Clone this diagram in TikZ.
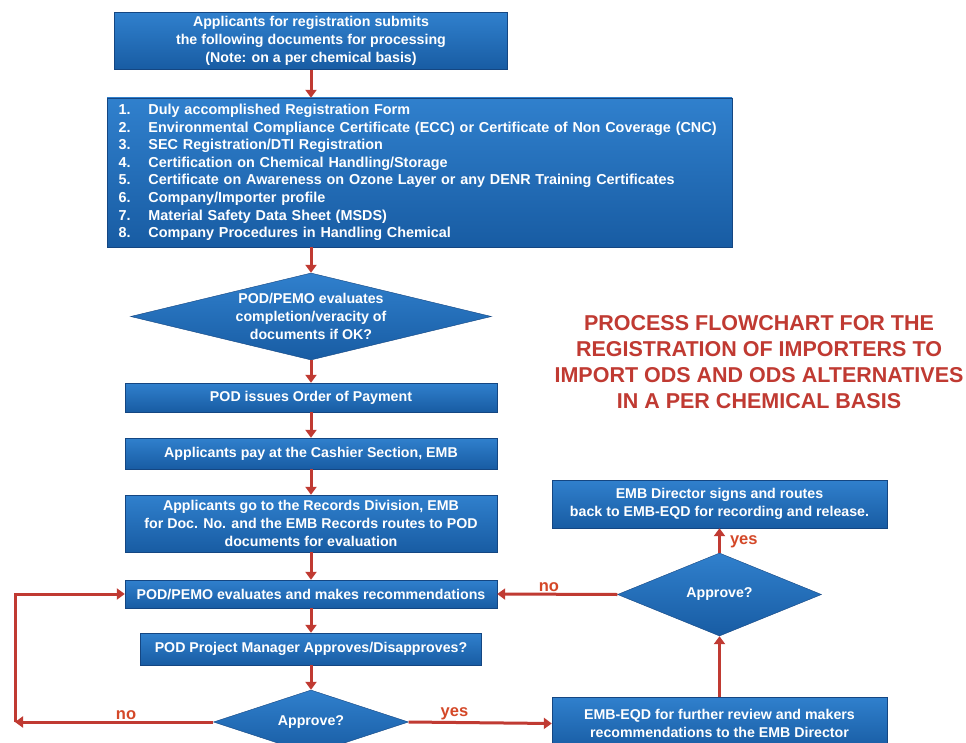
\documentclass[tikz,border=0pt]{standalone}
\usepackage{fontspec}
\setmainfont{Liberation Sans}
\usepackage{tikz}
\usetikzlibrary{shapes.geometric,arrows.meta}
\definecolor{azulclaro}{RGB}{48,128,205}
\definecolor{azuloscuro}{RGB}{24,92,163}
\definecolor{azulborde}{RGB}{20,70,130}
\definecolor{rojo}{RGB}{192,58,50}
\definecolor{naranja}{RGB}{212,72,40}
\tikzstyle{caja} = [rectangle, top color=azulclaro, bottom color=azuloscuro, draw=azulborde, thin, text=white, font=\fontsize{14.2}{18}\selectfont\bfseries, align=center, inner sep=0pt, minimum width=372pt]
\tikzstyle{decision} = [diamond, top color=azulclaro, bottom color=azuloscuro, draw=azulborde, thin, text=white, font=\fontsize{14.2}{18}\selectfont\bfseries, align=center, inner sep=0pt]
\tikzstyle{flecha} = [draw=rojo, line width=3pt, -{Triangle[width=11pt,length=8pt]}]
\tikzstyle{etiqueta} = [text=naranja, font=\fontsize{16.5}{18}\selectfont\bfseries, inner sep=1pt]
\tikzstyle{titulo} = [text=rojo, font=\fontsize{21.5}{26}\selectfont\bfseries, align=center]

\begin{document}
\begin{tikzpicture}[x=1pt,y=-1pt]
		\useasboundingbox[fill=white] (0,0) rectangle (966,743);
		% columna principal
		\node[caja, minimum width=393pt, minimum height=57pt](inicio) at (311,41){Applicants for registration submits\\the following documents for processing\\(Note: on a per chemical basis)};
		\node[caja, minimum width=625pt, minimum height=149pt, text width=602pt, align=left, inner xsep=11.5pt, font=\fontsize{14.4}{17.6}\selectfont\bfseries](requisitos) at (419.5,172.5){%
			\makebox[30pt][l]{1.}Duly accomplished Registration Form\\
			\makebox[30pt][l]{2.}Environmental Compliance Certificate (ECC) or Certificate of Non Coverage (CNC)\\
			\makebox[30pt][l]{3.}SEC Registration/DTI Registration\\
			\makebox[30pt][l]{4.}Certification on Chemical Handling/Storage\\
			\makebox[30pt][l]{5.}Certificate on Awareness on Ozone Layer or any DENR Training Certificates\\
			\makebox[30pt][l]{6.}Company/Importer profile\\
			\makebox[30pt][l]{7.}Material Safety Data Sheet (MSDS)\\
			\makebox[30pt][l]{8.}Company Procedures in Handling Chemical};
		\node[decision, minimum width=361pt, minimum height=87pt, aspect=4.15, inner sep=-5pt](evalua) at (311,316.5){POD/PEMO evaluates\\completion/veracity of\\documents if OK?};
		\node[caja, minimum height=29pt](orden) at (311,397.5){POD issues Order of Payment};
		\node[caja, minimum height=31pt](pago) at (311,453.5){Applicants pay at the Cashier Section, EMB};
		\node[caja, minimum height=57pt](registros) at (311,523.5){Applicants go to the Records Division, EMB\\for Doc. No. and the EMB Records routes to POD\\documents for evaluation};
		\node[caja, minimum height=28pt](recomienda) at (311,594){POD/PEMO evaluates and makes recommendations};
		\node[caja, minimum width=341pt, minimum height=32pt](gerente) at (311,649){POD Project Manager Approves/Disapproves?};
		\node[decision, minimum width=195pt, minimum height=64pt, aspect=3](aprueba1) at (311,722){Approve?};
		% columna derecha
		\node[caja, minimum width=335pt, minimum height=53pt](revision) at (719.5,723.5){EMB-EQD for further review and makers\\recommendations to the EMB Director};
		\node[decision, minimum width=204pt, minimum height=83pt, aspect=2.46](aprueba2) at (719.5,594.5){Approve?};
		\node[caja, minimum width=335pt, minimum height=48pt](director) at (719.5,504){EMB Director signs and routes\\back to EMB-EQD for recording and release.};
		\node[titulo](titulo) at (759,362){PROCESS FLOWCHART FOR THE\\REGISTRATION OF IMPORTERS TO\\IMPORT ODS AND ODS ALTERNATIVES\\IN A PER CHEMICAL BASIS};
		% flechas
		\draw[flecha] (inicio.south) -- (requisitos.north -| inicio.south);
		\draw[flecha] (requisitos.south -| evalua.north) -- (evalua.north);
		\draw[flecha] (evalua.south) -- (orden.north);
		\draw[flecha] (orden.south) -- (pago.north);
		\draw[flecha] (pago.south) -- (registros.north);
		\draw[flecha] (registros.south) -- (recomienda.north);
		\draw[flecha] (recomienda.south) -- (gerente.north);
		\draw[flecha] (gerente.south) -- (aprueba1.north);
		\coordinate (esquina) at (15,722);
		\draw[flecha] (aprueba1.west) -- node[etiqueta, above, pos=0.44]{no} (esquina);
		\draw[flecha] (esquina) |- (recomienda.west);
		\draw[flecha] (aprueba1.east) -- node[etiqueta, above, pos=0.32]{yes} (revision.west);
		\draw[flecha] (revision.north) -- (aprueba2.south);
		\draw[flecha] (aprueba2.north) -- node[etiqueta, right=8pt, pos=0.45]{yes} (director.south);
		\draw[flecha] (aprueba2.west) -- node[etiqueta, above, pos=0.57]{no} (recomienda.east);
	\end{tikzpicture}
\end{document}
